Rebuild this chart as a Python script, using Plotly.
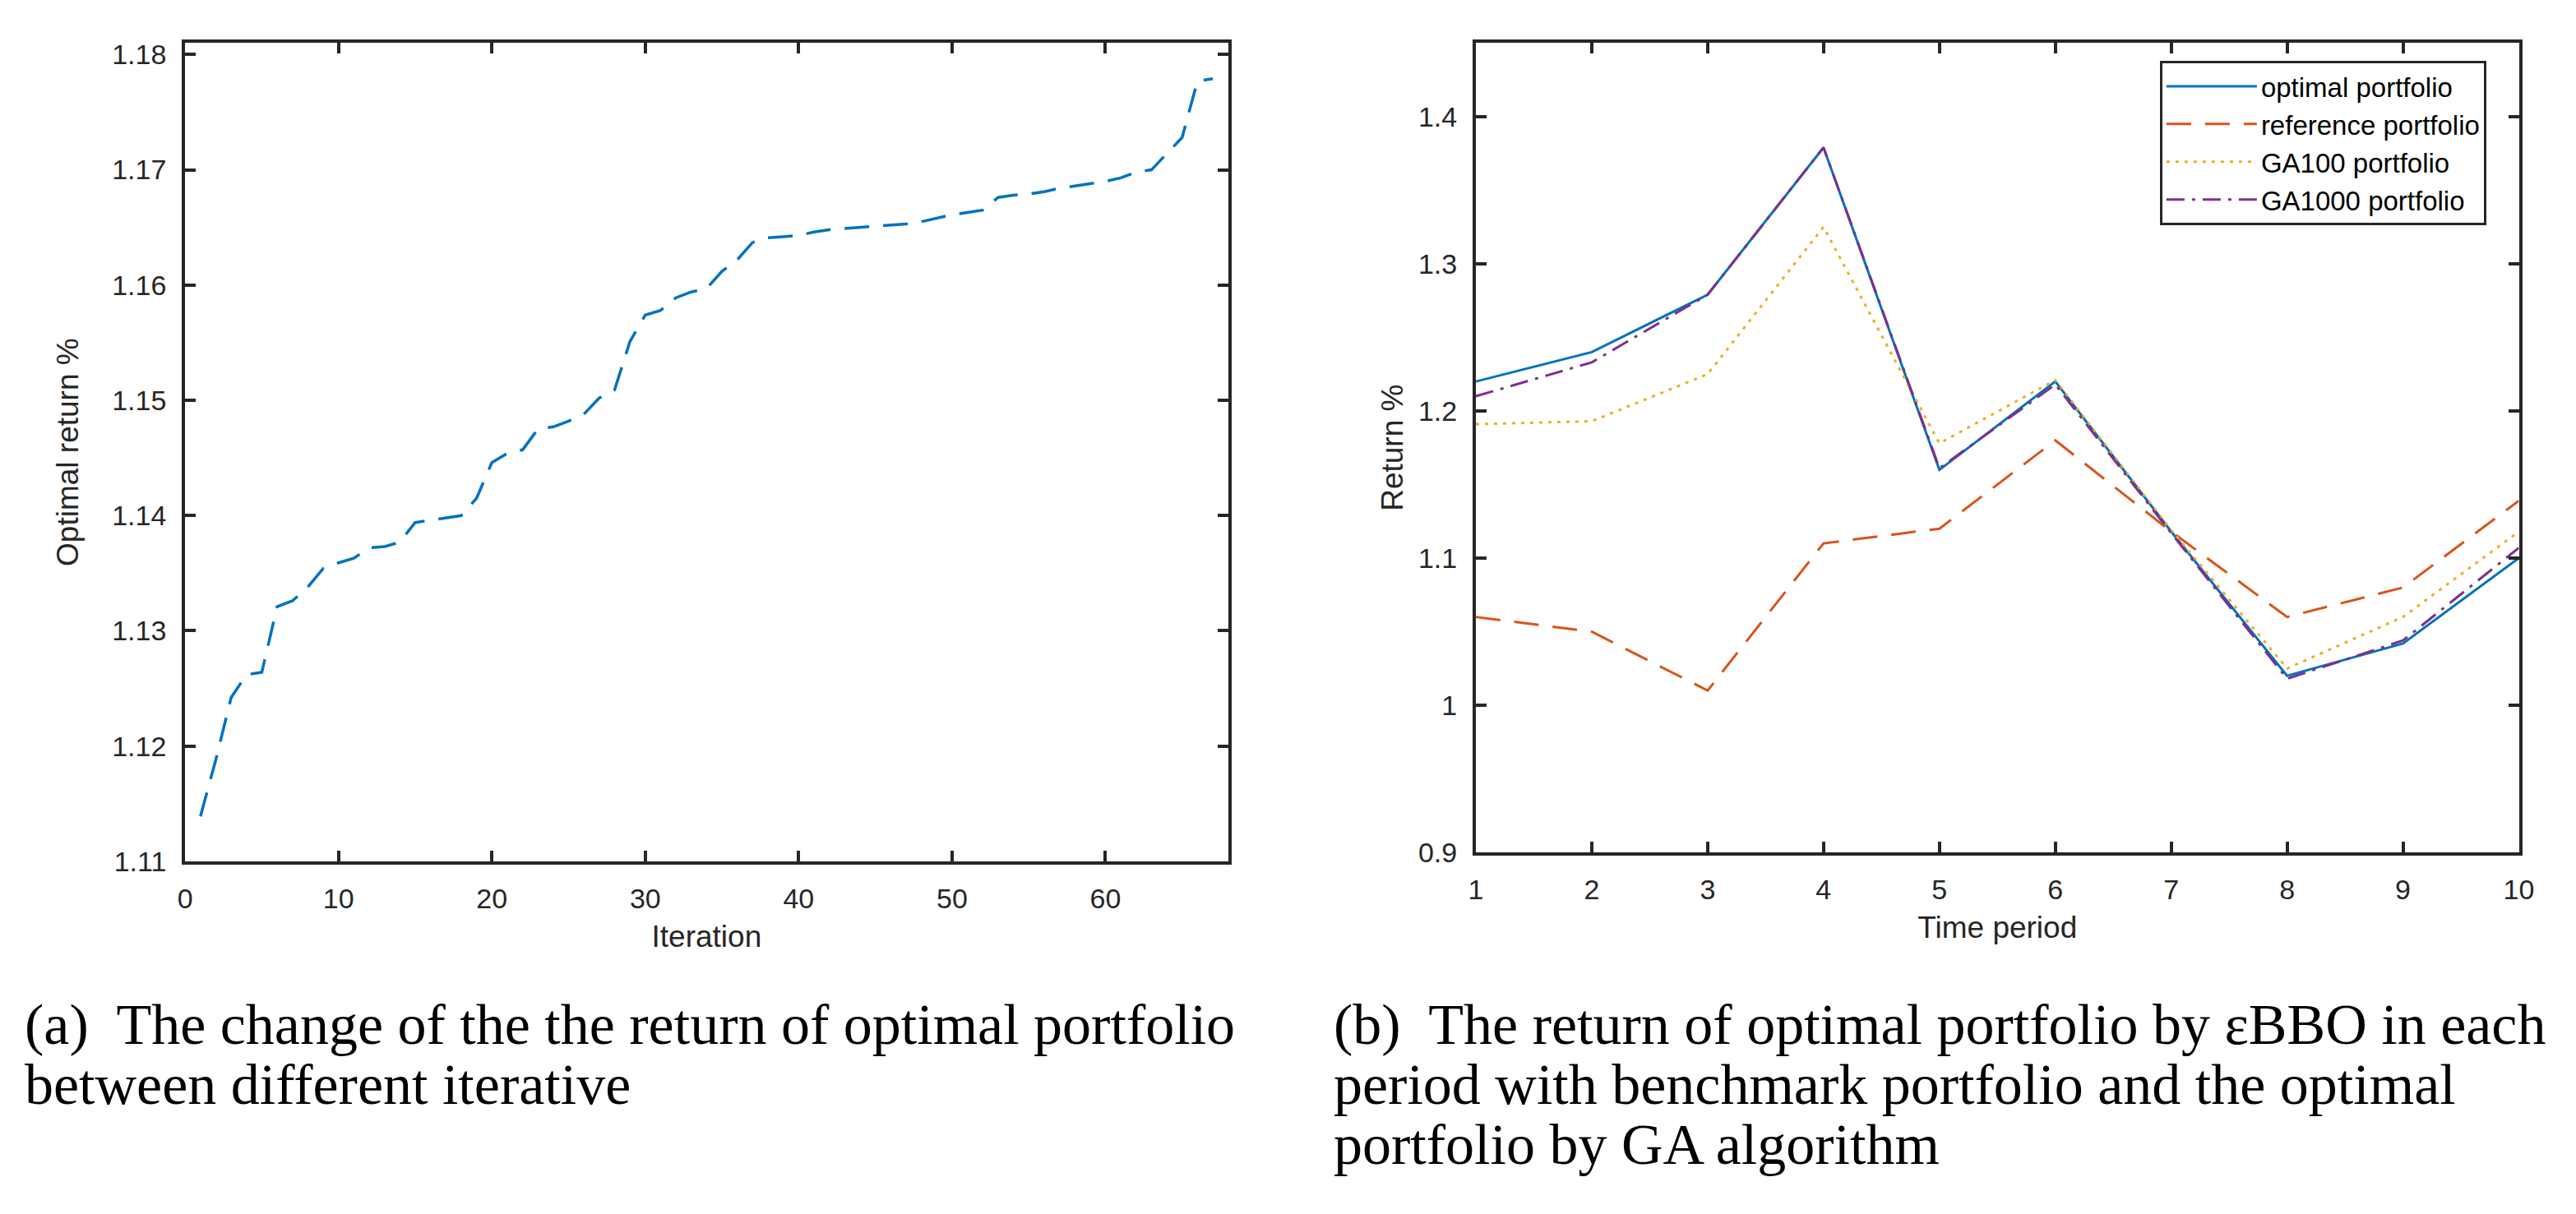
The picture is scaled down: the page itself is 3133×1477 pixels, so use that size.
"""
Two MATLAB-style panels: return over iterations, and per-period returns
plotting method: plotly
"""

import plotly.graph_objects as go

# ============================================================================
# DATA
# ============================================================================

# (a) optimal return per iteration
iterations = list(range(1, 68))
optimal_return = [
    1.1139, 1.1188, 1.1242, 1.1262, 1.1264, 1.1321, 1.1326, 1.1338, 1.1354, 1.1359,
    1.1363, 1.1372, 1.1373, 1.1377, 1.1394, 1.1396, 1.1398, 1.1400, 1.1415, 1.1446,
    1.1454, 1.1457, 1.1475, 1.1477, 1.1482, 1.1488, 1.1502, 1.1509, 1.1551, 1.1574,
    1.1578, 1.1589, 1.1594, 1.1597, 1.1612, 1.1622, 1.1637, 1.1641, 1.1642, 1.1643,
    1.1646, 1.1648, 1.1649, 1.1650, 1.1651, 1.1652, 1.1653, 1.1655, 1.1658, 1.1661,
    1.1663, 1.1665, 1.1676, 1.1678, 1.1679, 1.1681, 1.1684, 1.1686, 1.1688, 1.1690,
    1.1693, 1.1698, 1.1700, 1.1714, 1.1728, 1.1777, 1.1779,
]

# (b) return per time period
periods = list(range(1, 11))
optimal_portfolio = [1.220, 1.240, 1.279, 1.379, 1.160, 1.220, 1.118, 1.020, 1.042, 1.100]
reference_portfolio = [1.060, 1.050, 1.010, 1.110, 1.120, 1.180, 1.118, 1.060, 1.080, 1.139]
ga100_portfolio = [1.191, 1.193, 1.225, 1.325, 1.178, 1.221, 1.119, 1.025, 1.060, 1.118]
ga1000_portfolio = [1.210, 1.233, 1.279, 1.379, 1.161, 1.218, 1.117, 1.018, 1.044, 1.107]

left_yticks = [1.11, 1.12, 1.13, 1.14, 1.15, 1.16, 1.17, 1.18]
left_xticks = [0, 10, 20, 30, 40, 50, 60]
right_yticks = [0.9, 1.0, 1.1, 1.2, 1.3, 1.4]
right_yticklabels = ["0.9", "1", "1.1", "1.2", "1.3", "1.4"]

caption_a = ["(a)  The change of the the return of optimal portfolio",
             "between different iterative"]
caption_b = ["(b)  The return of optimal portfolio by εBBO in each",
             "period with benchmark portfolio and the optimal",
             "portfolio by GA algorithm"]

# ============================================================================
# PLOT
# ============================================================================

W, H = 3133, 1477
AX = "#262626"
SANS = "Liberation Sans, Arial, sans-serif"
TICK_FONT = dict(family=SANS, size=34, color=AX)
TITLE_FONT = dict(family=SANS, size=37, color=AX)

fig = go.Figure()

fig.add_trace(go.Scatter(
    x=iterations, y=optimal_return, mode="lines", showlegend=False,
    line=dict(color="#0072BD", width=3.5, dash="30px,17px"),
    xaxis="x", yaxis="y"))

fig.add_trace(go.Scatter(
    x=periods, y=optimal_portfolio, mode="lines", name="optimal portfolio",
    line=dict(color="#0072BD", width=3), xaxis="x2", yaxis="y2"))
fig.add_trace(go.Scatter(
    x=periods, y=reference_portfolio, mode="lines", name="reference portfolio",
    line=dict(color="#D95319", width=3, dash="30px,17px"), xaxis="x2", yaxis="y2"))
fig.add_trace(go.Scatter(
    x=periods, y=ga100_portfolio, mode="lines", name="GA100 portfolio",
    line=dict(color="#EDB120", width=3, dash="4px,7px"), xaxis="x2", yaxis="y2"))
fig.add_trace(go.Scatter(
    x=periods, y=ga1000_portfolio, mode="lines", name="GA1000 portfolio",
    line=dict(color="#7E2F8E", width=3, dash="22px,9px,4px,9px"), xaxis="x2", yaxis="y2"))

axis_common = dict(
    showline=True, linecolor=AX, linewidth=4, mirror="ticks",
    ticks="inside", ticklen=13, tickwidth=4, tickcolor=AX,
    showgrid=False, zeroline=False, tickfont=TICK_FONT,
)

fig.update_layout(
    width=W, height=H,
    margin=dict(l=0, r=0, t=0, b=0),
    paper_bgcolor="white", plot_bgcolor="white",
    xaxis=dict(axis_common, domain=[210 / W, 1490 / W], range=[0, 68],
               tickvals=left_xticks, ticklabelstandoff=12,
               title=dict(text="Iteration", font=TITLE_FONT, standoff=16)),
    yaxis=dict(axis_common, domain=[1 - 1052 / H, 1 - 40 / H], range=[1.11, 1.181],
               tickvals=left_yticks, tickformat=".2f", ticklabelstandoff=12,
               title=dict(text="Optimal return %", font=TITLE_FONT, standoff=30)),
    xaxis2=dict(axis_common, domain=[1794 / W, 3074 / W], range=[1, 10],
                tickvals=periods, ticklabelstandoff=12, anchor="y2",
                title=dict(text="Time period", font=TITLE_FONT, standoff=16)),
    yaxis2=dict(axis_common, domain=[1 - 1041 / H, 1 - 40 / H], range=[0.9, 1.45],
                tickvals=right_yticks, ticktext=right_yticklabels,
                ticklabelstandoff=12, anchor="x2",
                title=dict(text="Return %", font=TITLE_FONT, standoff=8)),
    showlegend=True,
    legend=dict(
        x=3034 / W, y=1 - 62 / H, xanchor="right", yanchor="top",
        bgcolor="white", bordercolor=AX, borderwidth=3,
        font=dict(family=SANS, size=33, color="black"),
        tracegroupgap=0, itemwidth=110,
    ),
)

# captions under each panel, one annotation per line
CAP_SIZE = 70
CAP_FONT = dict(family="Liberation Serif, Times New Roman, serif", size=CAP_SIZE, color="black")
baselines = [1278, 1352, 1426]
for x0, lines in [(12, caption_a), (1618, caption_b)]:
    for line, base in zip(lines, baselines):
        fig.add_annotation(text=line, xref="paper", yref="paper",
                           x=x0 / W, y=1 - (base - 0.34 * CAP_SIZE) / H,
                           xanchor="left", yanchor="middle", align="left",
                           showarrow=False, font=CAP_FONT, borderpad=0)

fig.write_html("out.html")
